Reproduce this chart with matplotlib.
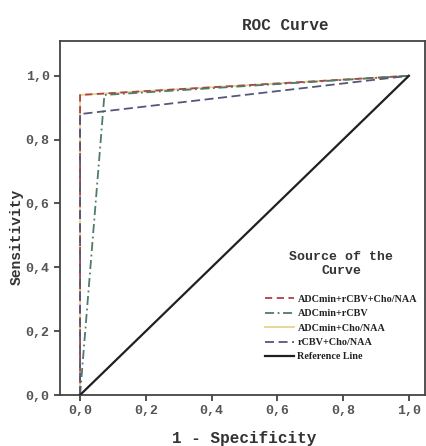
import matplotlib
matplotlib.use("Agg")
import matplotlib.pyplot as plt
from matplotlib.ticker import FuncFormatter

# ROC points (1 - specificity, sensitivity)
fpr_all = [0.0, 0.0, 1.0]
tpr_all = [0.0, 0.94, 1.0]
fpr_adc_rcbv = [0.0, 0.074, 1.0]
tpr_adc_rcbv = [0.0, 0.94, 1.0]
fpr_adc_cho = [0.0, 0.0, 1.0]
tpr_adc_cho = [0.0, 0.94, 1.0]
fpr_rcbv_cho = [0.0, 0.0, 1.0]
tpr_rcbv_cho = [0.0, 0.88, 1.0]
ref_line = [0.0, 1.0]

labels = ["ADCmin+rCBV+Cho/NAA", "ADCmin+rCBV", "ADCmin+Cho/NAA",
          "rCBV+Cho/NAA", "Reference Line"]
ticks = [0.0, 0.2, 0.4, 0.6, 0.8, 1.0]

mono = "Liberation Mono"

fig = plt.figure(figsize=(4.27, 4.46), dpi=100)
ax = fig.add_axes([60 / 427, 51 / 446, 365 / 427, 354 / 446])

ax.plot(fpr_adc_cho, tpr_adc_cho, color="#e6d48a", lw=1.3, label=labels[2], zorder=2)
ax.plot(fpr_all, tpr_all, color="#b0404a", lw=1.3, ls=(0, (4, 2.5)), label=labels[0], zorder=3)
ax.plot(fpr_adc_rcbv, tpr_adc_rcbv, color="#4f7a6c", lw=1.3, ls=(0, (5, 2, 1, 2)), label=labels[1], zorder=3)
ax.plot(fpr_rcbv_cho, tpr_rcbv_cho, color="#55577a", lw=1.3, ls=(0, (5, 2.5)), label=labels[3], zorder=3.5)
ax.plot(ref_line, ref_line, color="#202020", lw=1.6, label=labels[4], zorder=4)

ax.set_xlim(-0.061, 1.049)
ax.set_ylim(0, 1.109)
ax.set_xticks(ticks)
ax.set_yticks(ticks)
fmt = FuncFormatter(lambda v, p: f"{v:.1f}".replace(".", ","))
ax.xaxis.set_major_formatter(fmt)
ax.yaxis.set_major_formatter(fmt)
ax.tick_params(axis="both", direction="out", length=4.5, width=1.2, color="#333333",
               labelsize=9.5, pad=3)
for lab in ax.get_xticklabels() + ax.get_yticklabels():
    lab.set_fontfamily(mono)
    lab.set_fontweight("bold")
    lab.set_color("#555555")
for s in ax.spines.values():
    s.set_linewidth(1.3)
    s.set_color("#444444")

handles, labs = ax.get_legend_handles_labels()
order = [labs.index(l) for l in labels]
leg = ax.legend([handles[i] for i in order], [labs[i] for i in order],
                loc="upper left", bbox_to_anchor=((265 - 60) / 365, (446 - 251 - 51) / 354),
                frameon=False, title="Source of the\nCurve", alignment="center",
                title_fontproperties={"family": mono, "weight": "bold", "size": 9.5},
                prop={"family": "Liberation Serif", "weight": "bold", "size": 7.3},
                handlelength=2.9, handletextpad=0.3, labelspacing=0.52,
                borderaxespad=0, borderpad=0)
leg.get_title().set_color("#333333")
leg.get_title().set_multialignment("center")
leg._legend_box.sep = 13
for t in leg.get_texts():
    t.set_color("#222222")

fig.text(285 / 427, 1 - 25 / 446, "ROC Curve", family=mono, weight="bold",
         size=11.5, ha="center", va="center", color="#333333")
fig.text(244 / 427, 1 - 439 / 446, "1 - Specificity", family=mono, weight="bold",
         size=11.5, ha="center", va="center", color="#333333")
fig.text(17 / 427, 1 - 237 / 446, "Sensitivity", family=mono, weight="bold",
         size=10.5, ha="center", va="center", rotation=90, color="#333333")

fig.savefig("out.png", dpi=100)
